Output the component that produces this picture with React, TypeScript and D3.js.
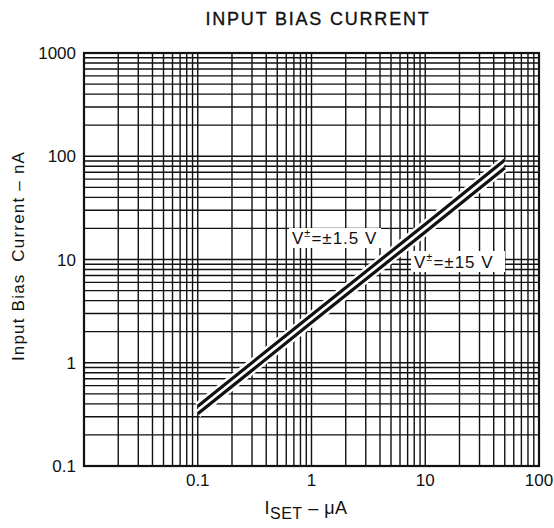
import React from "react";
import * as d3 from "d3";

const title = "INPUT BIAS CURRENT";
const xTickValues = [0.1, 1, 10, 100];
const xTickLabels = ["0.1", "1", "10", "100"];
const yTickValues = [0.1, 1, 10, 100, 1000];
const yTickLabels = ["0.1", "1", "10", "100", "1000"];
const iset = [0.1, 1, 10, 50];
const biasLowSupply = [0.38, 2.9, 22, 92];   // V± = ±1.5 V
const biasHighSupply = [0.32, 2.45, 18.5, 77];  // V± = ±15 V

const W = 554, H = 528;
const L = 84, R = 539, T = 53, B = 466;
const FONT = "'Liberation Sans', Arial, Helvetica, sans-serif";

export default function App() {
  const x = d3.scaleLog().domain([0.01, 100]).range([L, R]);
  const y = d3.scaleLog().domain([0.1, 1000]).range([B, T]);

  const gridX: number[] = [];
  for (let k = -2; k < 2; k++) for (let m = 1; m <= 9; m++) gridX.push(m * Math.pow(10, k));
  gridX.push(100);
  const gridY: number[] = [];
  for (let k = -1; k < 3; k++) for (let m = 1; m <= 9; m++) gridY.push(m * Math.pow(10, k));
  gridY.push(1000);

  const line = d3.line<[number, number]>().x(d => x(d[0])).y(d => y(d[1]));
  const s1 = line(iset.map((v, i) => [v, biasLowSupply[i]] as [number, number])) || "";
  const s2 = line(iset.map((v, i) => [v, biasHighSupply[i]] as [number, number])) || "";

  return (
    <svg width={W} height={H} style={{ position: "absolute", left: 0, top: 0, background: "#fff" }} fontFamily={FONT}>
      <rect x={0} y={0} width={W} height={H} fill="#fff" />
      <text x={318} y={25} textAnchor="middle" fontSize={18} fontWeight={500} letterSpacing={1.8} fill="#111" stroke="#111" strokeWidth={0.35}>{title}</text>
      <g stroke="#111" strokeWidth={1.4}>
        {gridX.map((v, i) => (
          <line key={"gx" + i} x1={x(v)} x2={x(v)} y1={T} y2={B} />
        ))}
        {gridY.map((v, i) => (
          <line key={"gy" + i} x1={L} x2={R} y1={y(v)} y2={y(v)} />
        ))}
      </g>
      <rect x={L} y={T} width={R - L} height={B - T} fill="none" stroke="#111" strokeWidth={2.2} />
      {/* curves with white halo */}
      <path d={s1} fill="none" stroke="#fff" strokeWidth={8} />
      <path d={s2} fill="none" stroke="#fff" strokeWidth={8} />
      <path d={s1} fill="none" stroke="#111" strokeWidth={3.2} />
      <path d={s2} fill="none" stroke="#111" strokeWidth={3.2} />
      {/* labels */}
      <rect x={289} y={228} width={92} height={20} fill="#fff" />
      <text x={292} y={244} fontSize={17} letterSpacing={1} fill="#111">
        V<tspan dy={-7} fontSize={11}>±</tspan><tspan dy={7}>=±1.5 V</tspan>
      </text>
      <rect x={411} y={251} width={94} height={21} fill="#fff" />
      <text x={414} y={268} fontSize={17} letterSpacing={1} fill="#111">
        V<tspan dy={-7} fontSize={11}>±</tspan><tspan dy={7}>=±15 V</tspan>
      </text>
      {/* y ticks */}
      {yTickValues.map((v, i) => (
        <text key={"yt" + i} x={76} y={y(v)} dy="0.36em" textAnchor="end" fontSize={17} fill="#111">{yTickLabels[i]}</text>
      ))}
      {xTickValues.map((v, i) => (
        <text key={"xt" + i} x={x(v)} y={486} textAnchor="middle" fontSize={17} fill="#111">{xTickLabels[i]}</text>
      ))}
      <text transform={`translate(24,${256}) rotate(-90)`} textAnchor="middle" fontSize={17} letterSpacing={1.2} fill="#111" style={{ whiteSpace: "pre" }}>
        {"Input Bias  Current – nA"}
      </text>
      <text x={306} y={514} textAnchor="middle" fontSize={18} letterSpacing={0.5} fill="#111">
        I<tspan dy={5} fontSize={16}>SET</tspan><tspan dy={-5}> – μA</tspan>
      </text>
    </svg>
  );
}
